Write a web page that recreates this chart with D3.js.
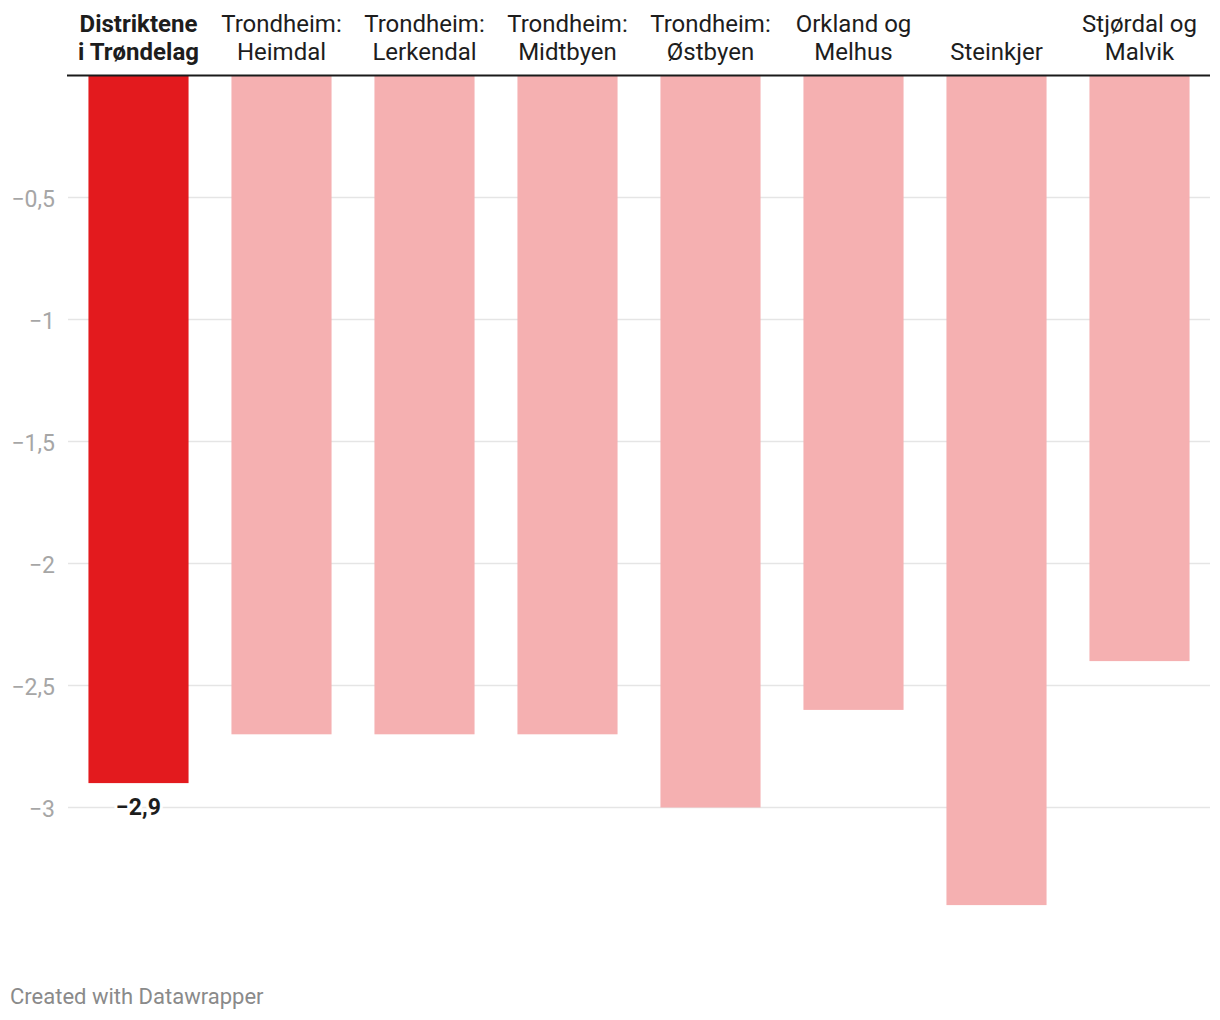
<!DOCTYPE html>
<html>
<head>
<meta charset="utf-8">
<script src="https://cdn.jsdelivr.net/npm/d3@7"></script>
<style>
  body { margin: 0; background: #fff; }
  text { font-family: Roboto, "Noto Sans", sans-serif; }
</style>
</head>
<body>
<script>
var categories = [
  ["Distriktene", "i Trøndelag"],
  ["Trondheim:", "Heimdal"],
  ["Trondheim:", "Lerkendal"],
  ["Trondheim:", "Midtbyen"],
  ["Trondheim:", "Østbyen"],
  ["Orkland og", "Melhus"],
  ["Steinkjer"],
  ["Stjørdal og", "Malvik"]
];
var values = [-2.9, -2.7, -2.7, -2.7, -3.0, -2.6, -3.4, -2.4];
var highlight = [true, false, false, false, false, false, false, false];
var yTicks = [-0.5, -1, -1.5, -2, -2.5, -3];

var width = 1220, height = 1020;
var plotLeft = 67, plotRight = 1211, plotTop = 75.5;

var svg = d3.select("body").append("svg")
  .attr("width", width)
  .attr("height", height);

var x = d3.scaleBand()
  .domain(d3.range(categories.length))
  .range([plotLeft, plotRight])
  .paddingInner(0.3)
  .paddingOuter(0.15);

var y = d3.scaleLinear()
  .domain([0, -3])
  .range([plotTop, plotTop + 732]);

var fmt = function(v) { return d3.format("")(v).replace("-", "\u2212").replace(".", ","); };

// grid
svg.append("g").selectAll("line")
  .data(yTicks)
  .enter().append("line")
    .attr("x1", plotLeft + 1)
    .attr("x2", 1210)
    .attr("y1", function(d) { return y(d); })
    .attr("y2", function(d) { return y(d); })
    .attr("stroke", "#e5e5e5")
    .attr("stroke-width", 1.6);

svg.append("g").selectAll("text")
  .data(yTicks)
  .enter().append("text")
    .attr("x", 55)
    .attr("y", function(d) { return y(d) + 9.5; })
    .attr("text-anchor", "end")
    .attr("font-size", 23)
    .attr("fill", "#a6a6a6")
    .text(fmt);

// bars
svg.append("g").selectAll("rect")
  .data(values)
  .enter().append("rect")
    .attr("x", function(d, i) { return x(i); })
    .attr("width", x.bandwidth())
    .attr("y", y(0))
    .attr("height", function(d) { return y(d) - y(0); })
    .attr("fill", function(d, i) { return highlight[i] ? "#e31a1e" : "#f5b0b1"; });

// axis line
svg.append("line")
  .attr("x1", plotLeft).attr("x2", 1210)
  .attr("y1", plotTop).attr("y2", plotTop)
  .attr("stroke", "#1a1a1a")
  .attr("stroke-width", 2);

// category labels
var lab = svg.append("g").selectAll("text")
  .data(categories)
  .enter().append("text")
    .attr("text-anchor", "middle")
    .attr("font-size", 24)
    .attr("fill", "#1d1d1d")
    .attr("font-weight", function(d, i) { return highlight[i] ? "bold" : "normal"; });

lab.selectAll("tspan")
  .data(function(d, i) {
    return d.map(function(t, j) { return { t: t, i: i, line: j + (2 - d.length) }; });
  })
  .enter().append("tspan")
    .attr("x", function(d) { return x(d.i) + x.bandwidth() / 2; })
    .attr("y", function(d) { return 31.5 + d.line * 28; })
    .text(function(d) { return d.t; });

// value label for highlighted bar
svg.append("g").selectAll("text")
  .data(values.filter(function(d, i) { return highlight[i]; }))
  .enter().append("text")
    .attr("x", x(0) + x.bandwidth() / 2)
    .attr("y", function(d) { return y(d) + 32; })
    .attr("text-anchor", "middle")
    .attr("font-size", 23)
    .attr("font-weight", "bold")
    .attr("fill", "#1d1d1d")
    .attr("stroke", "#fff")
    .attr("stroke-width", 6)
    .attr("paint-order", "stroke")
    .text(fmt);

svg.append("text")
  .attr("x", 10)
  .attr("y", 1004)
  .attr("font-size", 22)
  .attr("fill", "#8a8a8a")
  .text("Created with Datawrapper");
</script>
</body>
</html>
